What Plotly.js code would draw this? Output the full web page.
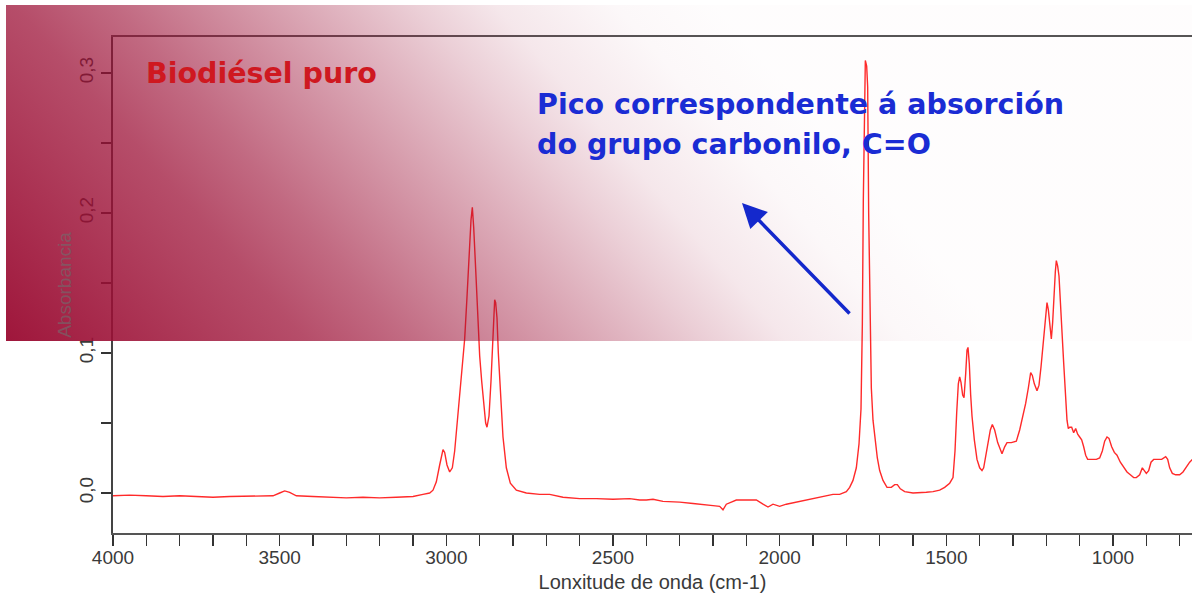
<!DOCTYPE html>
<html>
<head>
<meta charset="utf-8">
<script src="https://cdn.plot.ly/plotly-3.0.1.min.js"></script>
<style>html,body{margin:0;padding:0;background:#fff;overflow:hidden}#chart{width:1192px;height:593px}</style>
</head>
<body>
<div id="chart"></div>
<script>
// Wavenumber (cm-1) and absorbance
const wavenumber = [4000,3950,3900,3850,3800,3750,3700,3650,3600,3550,3520,3500,3485,3470,3450,3400,3350,3300,3250,3200,3150,3100,3070,3050,3040,3030,3020,3010,3005,2998,2990,2982,2975,2968,2960,2952,2945,2938,2932,2926,2922,2918,2912,2906,2900,2894,2888,2882,2878,2872,2866,2860,2855,2852,2848,2844,2838,2830,2820,2808,2790,2760,2720,2690,2650,2600,2550,2500,2450,2420,2400,2380,2350,2300,2260,2230,2200,2180,2170,2160,2150,2130,2100,2070,2050,2035,2020,2000,1980,1960,1940,1920,1900,1880,1860,1840,1820,1800,1790,1780,1770,1762,1756,1752,1749,1746,1743,1739,1736,1733,1729,1725,1720,1714,1707,1700,1690,1678,1665,1655,1647,1638,1625,1600,1580,1560,1540,1520,1505,1490,1480,1474,1469,1464,1460,1456,1451,1447,1442,1438,1435,1431,1427,1423,1416,1408,1400,1393,1388,1382,1376,1368,1362,1355,1346,1338,1333,1325,1318,1305,1290,1280,1270,1262,1254,1247,1242,1236,1228,1222,1216,1210,1204,1198,1194,1189,1185,1181,1177,1173,1170,1166,1162,1158,1153,1148,1143,1138,1134,1130,1124,1118,1112,1106,1100,1094,1088,1082,1076,1070,1060,1050,1040,1032,1025,1018,1012,1004,996,988,978,968,958,948,938,930,920,912,906,900,893,886,878,866,854,842,836,830,822,812,800,790,780,770,762];
const absorbance = [-0.002,-0.0015,-0.002,-0.0025,-0.002,-0.0025,-0.003,-0.0025,-0.0025,-0.0025,-0.002,0.0,0.0015,0.0005,-0.002,-0.0025,-0.003,-0.0035,-0.003,-0.0035,-0.003,-0.0025,-0.001,0.0,0.002,0.008,0.02,0.031,0.029,0.02,0.015,0.018,0.03,0.05,0.07,0.09,0.11,0.14,0.17,0.195,0.204,0.19,0.16,0.125,0.098,0.08,0.062,0.05,0.047,0.055,0.08,0.115,0.138,0.136,0.125,0.1,0.07,0.04,0.018,0.007,0.002,0.0,-0.001,-0.001,-0.003,-0.004,-0.004,-0.0045,-0.004,-0.005,-0.005,-0.0045,-0.006,-0.0065,-0.0075,-0.0085,-0.009,-0.0095,-0.012,-0.008,-0.007,-0.005,-0.005,-0.005,-0.008,-0.01,-0.008,-0.0095,-0.008,-0.007,-0.006,-0.005,-0.004,-0.003,-0.0025,-0.001,-0.001,0.001,0.004,0.009,0.018,0.035,0.06,0.12,0.21,0.28,0.309,0.305,0.29,0.2,0.12,0.075,0.052,0.038,0.025,0.016,0.009,0.004,0.004,0.006,0.006,0.003,0.001,0.0,0.0,0.0005,0.001,0.002,0.004,0.007,0.011,0.03,0.057,0.078,0.083,0.079,0.07,0.068,0.085,0.102,0.104,0.092,0.07,0.055,0.038,0.024,0.018,0.016,0.018,0.026,0.035,0.045,0.049,0.045,0.036,0.03,0.028,0.033,0.036,0.036,0.037,0.045,0.055,0.064,0.075,0.086,0.084,0.078,0.073,0.077,0.09,0.107,0.124,0.136,0.131,0.118,0.11,0.122,0.145,0.158,0.166,0.162,0.155,0.14,0.115,0.093,0.07,0.052,0.046,0.047,0.047,0.043,0.046,0.042,0.04,0.038,0.033,0.027,0.024,0.024,0.024,0.024,0.025,0.03,0.037,0.04,0.039,0.033,0.029,0.027,0.022,0.018,0.015,0.013,0.011,0.011,0.013,0.018,0.016,0.014,0.016,0.022,0.024,0.024,0.024,0.026,0.024,0.018,0.014,0.013,0.013,0.015,0.019,0.022,0.024];

const xTickValues = [4000,3500,3000,2500,2000,1500,1000];
const yTickValues = [0.0,0.1,0.2,0.3];
const xAxisTitle = "Lonxitude de onda (cm-1)";
const yAxisTitle = "Absorbancia";
const sampleLabel = "Biodiésel puro";
const noteLine1 = "Pico correspondente á absorción";
const noteLine2 = "do grupo carbonilo, C=O";

// pixel -> paper helpers for decorative items
const L = 113, T = 37, W = 1079, H = 496;
const px2x = p => (p - L) / W;
const py2y = p => (T + H - p) / H;

const gradSvg = "<svg xmlns='http://www.w3.org/2000/svg' width='1186' height='336' viewBox='0 0 1186 336' preserveAspectRatio='none'>" +
  "<defs><linearGradient id='g' gradientUnits='userSpaceOnUse' x1='0' y1='336' x2='570' y2='-160'>" +
  "<stop offset='0' stop-color='#9c0f35' stop-opacity='0.97'/>" +
  "<stop offset='0.3' stop-color='#9c0f35' stop-opacity='0.74'/>" +
  "<stop offset='0.4' stop-color='#9c0f35' stop-opacity='0.62'/>" +
  "<stop offset='0.7' stop-color='#9c0f35' stop-opacity='0.2'/>" +
  "<stop offset='0.78' stop-color='#9c0f35' stop-opacity='0.1'/>" +
  "<stop offset='0.9' stop-color='#9c0f35' stop-opacity='0.03'/>" +
  "<stop offset='1' stop-color='#9c0f35' stop-opacity='0.01'/>" +
  "</linearGradient></defs><rect x='0' y='0' width='1186' height='336' fill='url(#g)'/></svg>";
const gradUri = "data:image/svg+xml;charset=utf-8," + encodeURIComponent(gradSvg);

const trace = {
  x: wavenumber, y: absorbance, type: 'scatter', mode: 'lines',
  line: {color: '#ff2a2a', width: 1.4}, hoverinfo: 'skip', showlegend: false
};

const axisFont = {family: 'Liberation Sans, Arial, sans-serif', size: 19, color: '#3a3a3a'};
const titleFont = {family: 'DejaVu Sans, sans-serif', size: 28.5, weight: 'bold'};

const layout = {
  width: 1192, height: 593,
  margin: {l: L, r: 0, t: T, b: 593 - T - H},
  paper_bgcolor: '#fff', plot_bgcolor: '#fff',
  separators: ',.',
  showlegend: false,
  xaxis: {
    range: [4000, 4000 - W * 3.0],
    tickvals: xTickValues, ticktext: xTickValues.map(String),
    ticks: 'outside', ticklen: 11, tickwidth: 1.5, tickcolor: '#333',
    ticklabelstandoff: -5,
    minor: {dtick: 100, tick0: 0, ticks: 'outside', ticklen: 11, tickwidth: 1.5, tickcolor: '#333'},
    showline: true, linecolor: '#555', linewidth: 2, mirror: true,
    showgrid: false, zeroline: false,
    tickfont: axisFont,
    title: {text: xAxisTitle, font: {family: 'Liberation Sans, Arial, sans-serif', size: 20, color: '#3a3a3a'}, standoff: 8}
  },
  yaxis: {
    range: [(493 - 533) / 1400, (493 - 37) / 1400],
    tickvals: yTickValues, tickformat: '.1f', tickangle: -90,
    ticks: 'outside', ticklen: 10, tickwidth: 1.5, tickcolor: '#333',
    minor: {dtick: 0.05, tick0: 0, ticks: 'outside', ticklen: 10, tickwidth: 1.5, tickcolor: '#333'},
    showline: true, linecolor: '#444', linewidth: 2, mirror: false,
    showgrid: false, zeroline: false,
    tickfont: axisFont,
    title: {text: yAxisTitle, font: {family: 'Liberation Sans, Arial, sans-serif', size: 19, color: 'rgba(110,110,110,0.6)'}, standoff: 0}
  },
  images: [{
    source: gradUri, xref: 'paper', yref: 'paper',
    x: px2x(6), y: py2y(5), sizex: 1186 / W, sizey: 336 / H,
    xanchor: 'left', yanchor: 'top', sizing: 'stretch', layer: 'above'
  }],
  annotations: [
    {text: sampleLabel, xref: 'paper', yref: 'paper', x: px2x(144), y: py2y(73),
     xanchor: 'left', yanchor: 'middle', showarrow: false,
     font: Object.assign({}, titleFont, {color: '#cf1820'})},
    {text: noteLine1, xref: 'paper', yref: 'paper', x: px2x(535), y: py2y(104),
     xanchor: 'left', yanchor: 'middle', showarrow: false,
     font: Object.assign({}, titleFont, {color: '#1a2cd4'})},
    {text: noteLine2, xref: 'paper', yref: 'paper', x: px2x(535), y: py2y(144),
     xanchor: 'left', yanchor: 'middle', showarrow: false,
     font: Object.assign({}, titleFont, {color: '#1a2cd4'})},
    {text: '', xref: 'paper', yref: 'paper', x: px2x(742), y: py2y(203),
     ax: 109, ay: 112, showarrow: true, arrowhead: 2, arrowsize: 1.4, arrowwidth: 3.5,
     arrowcolor: '#1428cc', standoff: 0, startstandoff: 0}
  ]
};

Plotly.newPlot('chart', [trace], layout, {displayModeBar: false, staticPlot: true});
</script>
</body>
</html>
